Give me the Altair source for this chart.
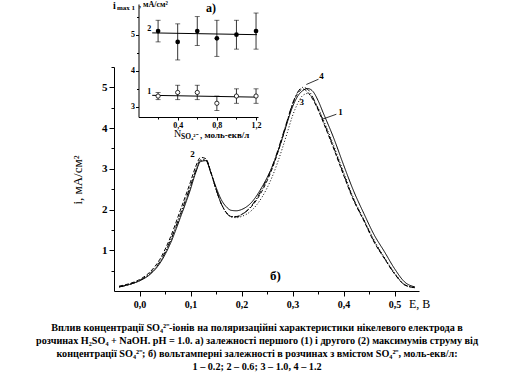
import altair as alt
import pandas as pd

# ---------------- main voltammograms (b) ----------------
E = [-0.04, -0.02, 0.00, 0.02, 0.04, 0.06, 0.08, 0.10, 0.11, 0.12, 0.13, 0.14, 0.15,
     0.16, 0.17, 0.18, 0.19, 0.20, 0.22, 0.24, 0.26, 0.28, 0.29, 0.30, 0.31, 0.32,
     0.33, 0.34, 0.35, 0.36, 0.38, 0.40, 0.42, 0.44, 0.46, 0.48, 0.50, 0.52, 0.54]
curve1 = [0.10, 0.16, 0.25, 0.40, 0.68, 1.15, 1.80, 2.50, 2.90, 3.18, 3.20, 2.90, 2.55,
          2.25, 2.07, 1.98, 1.97, 2.00, 2.18, 2.55, 3.05, 3.75, 4.15, 4.52, 4.78, 4.92,
          4.97, 4.90, 4.68, 4.38, 3.78, 3.10, 2.45, 1.90, 1.38, 0.97, 0.55, 0.22, 0.10]
curve2 = [0.12, 0.18, 0.28, 0.46, 0.78, 1.30, 1.98, 2.68, 3.05, 3.28, 3.25, 2.92, 2.50,
          2.15, 1.93, 1.83, 1.83, 1.88, 2.08, 2.45, 3.00, 3.75, 4.18, 4.58, 4.85, 4.96,
          4.88, 4.70, 4.45, 4.15, 3.52, 2.85, 2.22, 1.72, 1.20, 0.80, 0.42, 0.15, 0.08]
curve3 = [0.10, 0.16, 0.25, 0.42, 0.70, 1.20, 1.85, 2.55, 2.92, 3.20, 3.22, 2.90, 2.50,
          2.15, 1.92, 1.82, 1.80, 1.83, 1.98, 2.30, 2.80, 3.50, 3.90, 4.30, 4.60, 4.80,
          4.85, 4.72, 4.50, 4.22, 3.60, 2.92, 2.27, 1.75, 1.25, 0.83, 0.45, 0.16, 0.08]
curve4 = [0.10, 0.16, 0.26, 0.42, 0.72, 1.22, 1.88, 2.58, 2.95, 3.22, 3.22, 2.90, 2.50,
          2.15, 1.93, 1.82, 1.82, 1.87, 2.10, 2.50, 3.05, 3.80, 4.20, 4.60, 4.88, 5.00,
          4.95, 4.75, 4.48, 4.18, 3.55, 2.88, 2.24, 1.74, 1.22, 0.81, 0.43, 0.15, 0.08]
curve_names = ["1", "2", "3", "4"]
curve_dash = {"1": [1, 0], "2": [4, 2], "3": [1, 2], "4": [6, 2, 1, 2]}

# ---------------- inset (a): current maxima vs concentration ----------------
conc = [0.2, 0.4, 0.6, 0.8, 1.0, 1.2]
imax1 = [3.3, 3.4, 3.4, 3.1, 3.3, 3.3]
imax1_lo = [3.2, 3.2, 3.2, 2.9, 3.1, 3.1]
imax1_hi = [3.4, 3.6, 3.6, 3.3, 3.5, 3.5]
imax2 = [5.1, 4.8, 5.1, 4.9, 5.0, 5.1]
imax2_lo = [4.8, 4.3, 4.7, 4.4, 4.6, 4.6]
imax2_hi = [5.4, 5.3, 5.5, 5.4, 5.4, 5.6]
fit_x = [0.14, 1.21]
fit1 = [3.32, 3.27]
fit2 = [5.05, 5.00]

caption = [
    "Вплив концентрації SO₄²⁻-іонів на поляризаційні характеристики нікелевого електрода в",
    "розчинах H₂SO₄ + NaOH. pH = 1.0. а) залежності першого (1) і другого (2) максимумів струму від",
    "концентрації SO₄²⁻; б) вольтамперні залежності в розчинах з вмістом SO₄²⁻, моль-екв/л:",
    "1 – 0.2; 2 – 0.6; 3 – 1.0, 4 – 1.2",
]

SERIF = "Liberation Serif"
W, H = 305, 224

# ---------------- main encodings ----------------
xm_axis = alt.Axis(
    orient="bottom", title=None,
    values=[round(0.05 * k, 2) for k in range(11)],
    labelExpr="round(datum.value*100) % 10 == 0 ? replace(format(datum.value, '.1f'), '.', ',') : ''",
    tickSize={"condition": {"test": "round(datum.value*100) % 10 != 0", "value": 3}, "value": 5},
    labelFontSize=10, labelPadding=3, grid=False,
)
ym_axis = alt.Axis(
    orient="left", title=None,
    values=[0.5 * k for k in range(1, 12)],
    labelExpr="datum.value % 1 == 0 ? format(datum.value, 'd') : ''",
    tickSize={"condition": {"test": "datum.value % 1 != 0", "value": 3}, "value": 5},
    labelFontSize=11, labelPadding=2, grid=False,
)
xm = alt.X("E:Q", scale=alt.Scale(domain=[-0.05, 0.548], nice=False, zero=False), axis=xm_axis)
ym = alt.Y("i:Q", scale=alt.Scale(domain=[0, 5.5], nice=False, zero=False), axis=ym_axis)

dummy = pd.DataFrame({"a": [0]})


def txt(s, x, y, size=10, weight="bold", align="left", baseline="middle", angle=0):
    return alt.Chart(dummy).mark_text(
        text=s, font=SERIF, fontSize=size, fontWeight=weight, align=align,
        baseline=baseline, angle=angle, color="black",
    ).encode(x=alt.value(x), y=alt.value(y))


main_layers = []
series = {"1": curve1, "2": curve2, "3": curve3, "4": curve4}
for name in curve_names:
    df = pd.DataFrame({"E": E, "i": series[name]})
    main_layers.append(
        alt.Chart(df).mark_line(color="black", strokeWidth=1.0, strokeDash=curve_dash[name],
                                interpolate="monotone").encode(x=xm, y=ym)
    )

lab_df = pd.DataFrame({"E": [0.394, 0.104, 0.318, 0.357], "i": [4.39, 3.36, 4.63, 5.27],
                       "t": ["1", "2", "3", "4"]})
main_layers.append(
    alt.Chart(lab_df).mark_text(font=SERIF, fontSize=9, fontWeight="bold", color="black")
    .encode(x=xm, y=ym, text="t:N")
)
lead_df = pd.DataFrame({"E": [0.359, 0.327], "i": [4.22, 5.07], "E2": [0.386, 0.351], "i2": [4.34, 5.2]})
main_layers.append(
    alt.Chart(lead_df).mark_rule(color="black", strokeWidth=0.8)
    .encode(x=xm, y=ym, x2="E2:Q", y2="i2:Q")
)

main_layers.append(txt("б)", 156, 209, size=13))
main_layers.append(txt("E, B", 295, 237, size=12, weight="normal"))
main_layers.append(txt("i, мА/см²", -36, 113, size=13, weight="normal", align="center", angle=270))
for k, line in enumerate(caption):
    main_layers.append(txt(line, 143, 261 + 13 * k, size=10.2, align="center"))

main = alt.layer(*main_layers)

# ---------------- inset encodings ----------------
xi_axis = alt.Axis(
    orient="bottom", title=None, offset=-174,
    values=[0.2, 0.4, 0.6, 0.8, 1.0, 1.2],
    labelExpr="round(datum.value*10) % 4 == 0 ? replace(format(datum.value, '.1f'), '.', ',') : ''",
    tickSize={"condition": {"test": "round(datum.value*10) % 4 != 0", "value": 2}, "value": 3},
    labelFontSize=8, labelPadding=1, grid=False,
)
yi_axis = alt.Axis(
    orient="left", title=None, offset=-24.5,
    values=[3, 3.5, 4, 4.5, 5, 5.5],
    labelExpr="datum.value % 1 == 0 ? format(datum.value, 'd') : ''",
    tickSize={"condition": {"test": "datum.value % 1 != 0", "value": 2}, "value": 3},
    labelFontSize=8, labelPadding=1, grid=False,
)
xi = alt.X("c:Q", scale=alt.Scale(domain=[0, 1.22], range=[24.5, 144], nice=False, zero=False), axis=xi_axis)
yi = alt.Y("v:Q", scale=alt.Scale(domain=[2.72, 5.85], range=[50, -63], nice=False, zero=False), axis=yi_axis)

inset_layers = []
fit_df = pd.DataFrame({"c": fit_x * 2, "v": fit1 + fit2, "s": ["1", "1", "2", "2"]})
inset_layers.append(
    alt.Chart(fit_df).mark_line(color="black", strokeWidth=1).encode(x=xi, y=yi, detail="s:N")
)
err_df = pd.DataFrame({"c": conc * 2, "v": imax1_lo + imax2_lo, "v2": imax1_hi + imax2_hi})
inset_layers.append(
    alt.Chart(err_df).mark_rule(color="black", strokeWidth=0.8).encode(x=xi, y=yi, y2="v2:Q")
)
cap_df = pd.DataFrame({"c": conc * 4, "v": imax1_lo + imax1_hi + imax2_lo + imax2_hi})
inset_layers.append(
    alt.Chart(cap_df).mark_tick(color="black", orient="horizontal", size=5, thickness=0.8)
    .encode(x=xi, y=yi)
)
p2 = pd.DataFrame({"c": conc, "v": imax2})
inset_layers.append(
    alt.Chart(p2).mark_point(shape="circle", filled=True, color="black", size=22, opacity=1)
    .encode(x=xi, y=yi)
)
p1 = pd.DataFrame({"c": conc, "v": imax1})
inset_layers.append(
    alt.Chart(p1).mark_point(shape="circle", filled=True, fill="white", stroke="black",
                             strokeWidth=0.8, size=18, opacity=1)
    .encode(x=xi, y=yi)
)
il_df = pd.DataFrame({"c": [0.11, 0.11], "v": [5.15, 3.4], "t": ["2", "1"]})
inset_layers.append(
    alt.Chart(il_df).mark_text(font=SERIF, fontSize=8, fontWeight="bold", color="black")
    .encode(x=xi, y=yi, text="t:N")
)
inset_layers.append(txt("i", -1, -61, size=10))
inset_layers.append(txt("max 1", 3, -59, size=7))
inset_layers.append(txt(", мА/см²", 25, -62, size=8))
inset_layers.append(txt("а)", 92, -59, size=12))
inset_layers.append(txt("N", 60, 67, size=10, weight="normal"))
inset_layers.append(txt("SO₄²⁻", 67, 70, size=7.5))
inset_layers.append(txt(", моль-екв/л", 86, 68, size=9))

inset = alt.layer(*inset_layers)

chart = (
    alt.layer(main, inset)
    .resolve_scale(x="independent", y="independent")
    .properties(
        width=W, height=H,
        autosize=alt.AutoSizeParams(type="none"),
        padding={"left": 114, "top": 67, "right": 95, "bottom": 85},
        background="white",
    )
    .configure_view(stroke=None)
    .configure_axis(
        domainColor="black", tickColor="black", labelColor="black",
        labelFont=SERIF, labelFontWeight="bold", domainWidth=1, tickWidth=1,
    )
)

chart.save("out.html", embed_options={"renderer": "svg", "actions": False})
